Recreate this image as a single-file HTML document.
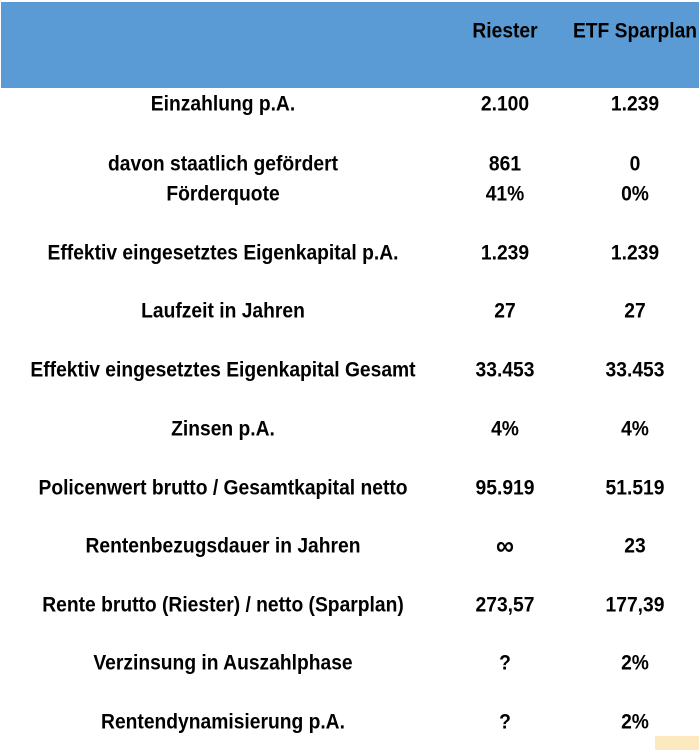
<!DOCTYPE html>
<html><head><meta charset="utf-8"><style>
body{margin:0;width:699px;height:750px;background:#fff;position:relative;overflow:hidden;font-family:"Liberation Sans",sans-serif;font-weight:bold;font-size:21.4px;color:#000}
.hdr{position:absolute;left:1px;top:2px;width:698px;height:86px;background:#5b9bd5}
.t{position:absolute;white-space:nowrap;transform:translate(-50%,-50%) scaleX(0.9);line-height:1}
.yel{position:absolute;left:655px;top:736px;width:44px;height:14px;background:#fde9c0}
</style></head><body>
<div class="hdr"></div>
<div class="yel"></div>
<div class="t" style="left:505px;top:31px">Riester</div>
<div class="t" style="left:635px;top:31px">ETF Sparplan</div>
<div id="rows"></div>
<script>
const labels=["Einzahlung p.A.","davon staatlich gefördert","Förderquote","Effektiv eingesetztes Eigenkapital p.A.","Laufzeit in Jahren","Effektiv eingesetztes Eigenkapital Gesamt","Zinsen p.A.","Policenwert brutto / Gesamtkapital netto","Rentenbezugsdauer in Jahren","Rente brutto (Riester) / netto (Sparplan)","Verzinsung in Auszahlphase","Rentendynamisierung p.A."];
const riester=["2.100","861","41%","1.239","27","33.453","4%","95.919","∞","273,57","?","?"];
const etf=["1.239","0","0%","1.239","27","33.453","4%","51.519","23","177,39","2%","2%"];
const ys=[104,164,194,253,311,370,429,488,546,605,663,722];
const c=document.getElementById('rows');
labels.forEach((l,i)=>{
 [[l,223,'row-label'],[riester[i],505,'riester-value'],[etf[i],635,'etf-value']].forEach(([txt,x,n])=>{
  const d=document.createElement('div');d.className='t';
  d.style.left=x+'px';d.style.top=ys[i]+'px';d.textContent=txt;
  if(txt==='∞')d.style.fontSize='28px';
  
  
  c.appendChild(d);
 });
});
</script>
</body></html>
